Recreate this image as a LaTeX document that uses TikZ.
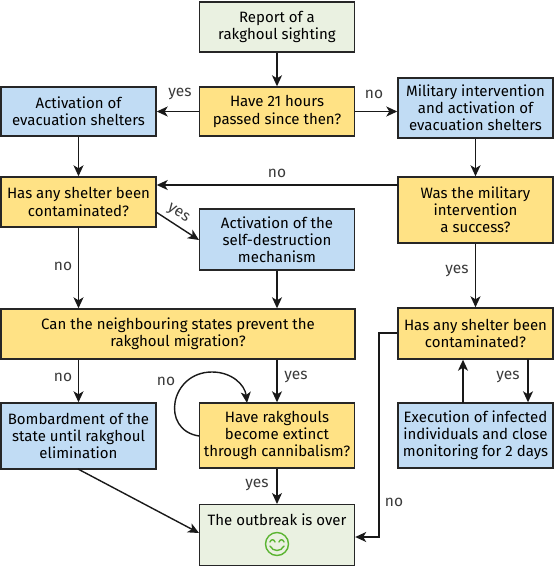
\documentclass[tikz,border=0pt]{standalone}
\usepackage{fontspec}
\setmainfont{Fira Sans}
\usetikzlibrary{arrows.meta}
\definecolor{startgreen}{HTML}{EAF1E1}
\definecolor{askyellow}{HTML}{FFE285}
\definecolor{actblue}{HTML}{C1DCF4}
\definecolor{smilegreen}{HTML}{5BB432}
\definecolor{labelgray}{HTML}{3A3A3A}
\begin{document}
\begin{tikzpicture}[x=1pt,y=-1pt,line join=miter,>={Stealth[length=11pt,width=10pt,inset=3pt]},
    box/.style={draw=black!85,line width=1.4pt,minimum width=155pt,align=center,inner sep=0pt,
        font=\fontsize{15}{17.2}\selectfont},
    greenbox/.style={box,fill=startgreen},
    askbox/.style={box,fill=askyellow},
    actbox/.style={box,fill=actblue},
    link/.style={->,line width=1.4pt,draw=black!90},
    lab/.style={font=\fontsize{15.5}{17}\selectfont,text=labelgray,inner sep=0pt}]

\useasboundingbox (0,0) rectangle (555,567);

\node[greenbox,minimum height=50pt] (report) at (277,27) {Report of a\\rakghoul sighting};
\node[askbox,minimum height=49pt] (hours) at (277,111.5) {Have 21 hours\\passed since then?};
\node[actbox,minimum height=49pt] (evac) at (78.5,111.5) {Activation of\\evacuation shelters};
\node[actbox,minimum height=60pt] (military) at (475.5,108) {Military intervention\\and activation of\\evacuation shelters};
\node[askbox,minimum height=50pt] (shelterA) at (78.5,202) {Has any shelter been\\contaminated?};
\node[askbox,minimum height=66pt] (success) at (475.5,210) {Was the military\\intervention\\a success?};
\node[actbox,minimum height=61pt] (selfdes) at (277,239.5) {Activation of the\\self-destruction\\mechanism};
\node[askbox,minimum width=354pt,minimum height=50pt] (states) at (178,334) {Can the neighbouring states prevent the\\rakghoul migration?};
\node[askbox,minimum height=51pt] (shelterB) at (475.5,333.5) {Has any shelter been\\contaminated?};
\node[actbox,minimum height=66pt] (bomb) at (78.5,436) {Bombardment of the\\state until rakghoul\\elimination};
\node[askbox,minimum height=65pt] (extinct) at (277,435.5) {Have rakghouls\\become extinct\\through cannibalism?};
\node[actbox,minimum height=65pt] (execute) at (475.5,435.5) {Execution of infected\\individuals and close\\monitoring for 2 days};
\node[greenbox,minimum height=61pt,anchor=north] (over) at (277,504) {};
\node[font=\fontsize{15}{17}\selectfont,inner sep=0pt] (overtext) at (277,520) {The outbreak is over};

\draw[link] (report) -- (hours);
\draw[link] (hours) -- (evac);
\draw[link] (hours.east) -- (hours.east -| military.west);
\draw[link] (evac) -- (shelterA);
\draw[link] (military) -- (success);
\draw[link] (shelterA) -- (states.north -| shelterA.south);
\draw[link] (selfdes) -- (selfdes |- states.north);
\draw[link] (success) -- (shelterB);
\draw[link] (states.south -| bomb.north) -- (bomb);
\draw[link] (states.south -| extinct.north) -- (extinct);
\draw[link] (extinct) -- (over);

\coordinate (noleft) at (398,185);
\draw[link] (noleft) -- (noleft -| shelterA.east);
\coordinate (yesfrom) at (156,212);
\coordinate (yesto) at (199,240);
\draw[link] (yesfrom) -- (yesto);
\coordinate (bombfrom) at (78,469);
\coordinate (bombto) at (199,533);
\draw[link] (bombfrom) -- (bombto);
\coordinate (loopfrom) at (199,436);
\coordinate (loopto) at (247,403);
\draw[link] (loopfrom) .. controls (160,430) and (170,372) .. (212,372) .. controls (232,372) and (245,385) .. (loopto);
\coordinate (backout) at (379,333);
\coordinate (backin) at (379,537);
\draw[link] (shelterB.west |- backout) -- (backout) -- (backin) -- (backin -| over.east);
\coordinate (yesdown) at (528,359);
\coordinate (execup) at (463,403);
\draw[link] (yesdown) -- (yesdown |- execute.north);
\draw[link] (execup) -- (execup |- shelterB.south);

\node[lab] (l1) at (180,94) {yes};
\node[lab] (l2) at (374,94) {no};
\node[lab] (l3) at (277,173) {no};
\node[lab,rotate=-33] (l4) at (178,214) {yes};
\node[lab] (l5) at (63,266) {no};
\node[lab] (l6) at (457,271) {yes};
\node[lab] (l7) at (63,377) {no};
\node[lab] (l8) at (296,377) {yes};
\node[lab] (l9) at (166,381) {no};
\node[lab] (l10) at (257,485) {yes};
\node[lab] (l11) at (508,377) {yes};
\node[lab] (l12) at (394,502) {no};

% smiley
\begin{scope}[shift={(277,544)},smilegreen,line width=1.4pt,line cap=round]
    \draw (0,0) circle (11.5);
    \draw (-7,-2) .. controls (-6,-5) and (-3,-5) .. (-2,-2);
    \draw (2,-2) .. controls (3,-5) and (6,-5) .. (7,-2);
    \draw (-7,2) .. controls (-4,8) and (4,8) .. (7,2);
\end{scope}
\end{tikzpicture}
\end{document}
